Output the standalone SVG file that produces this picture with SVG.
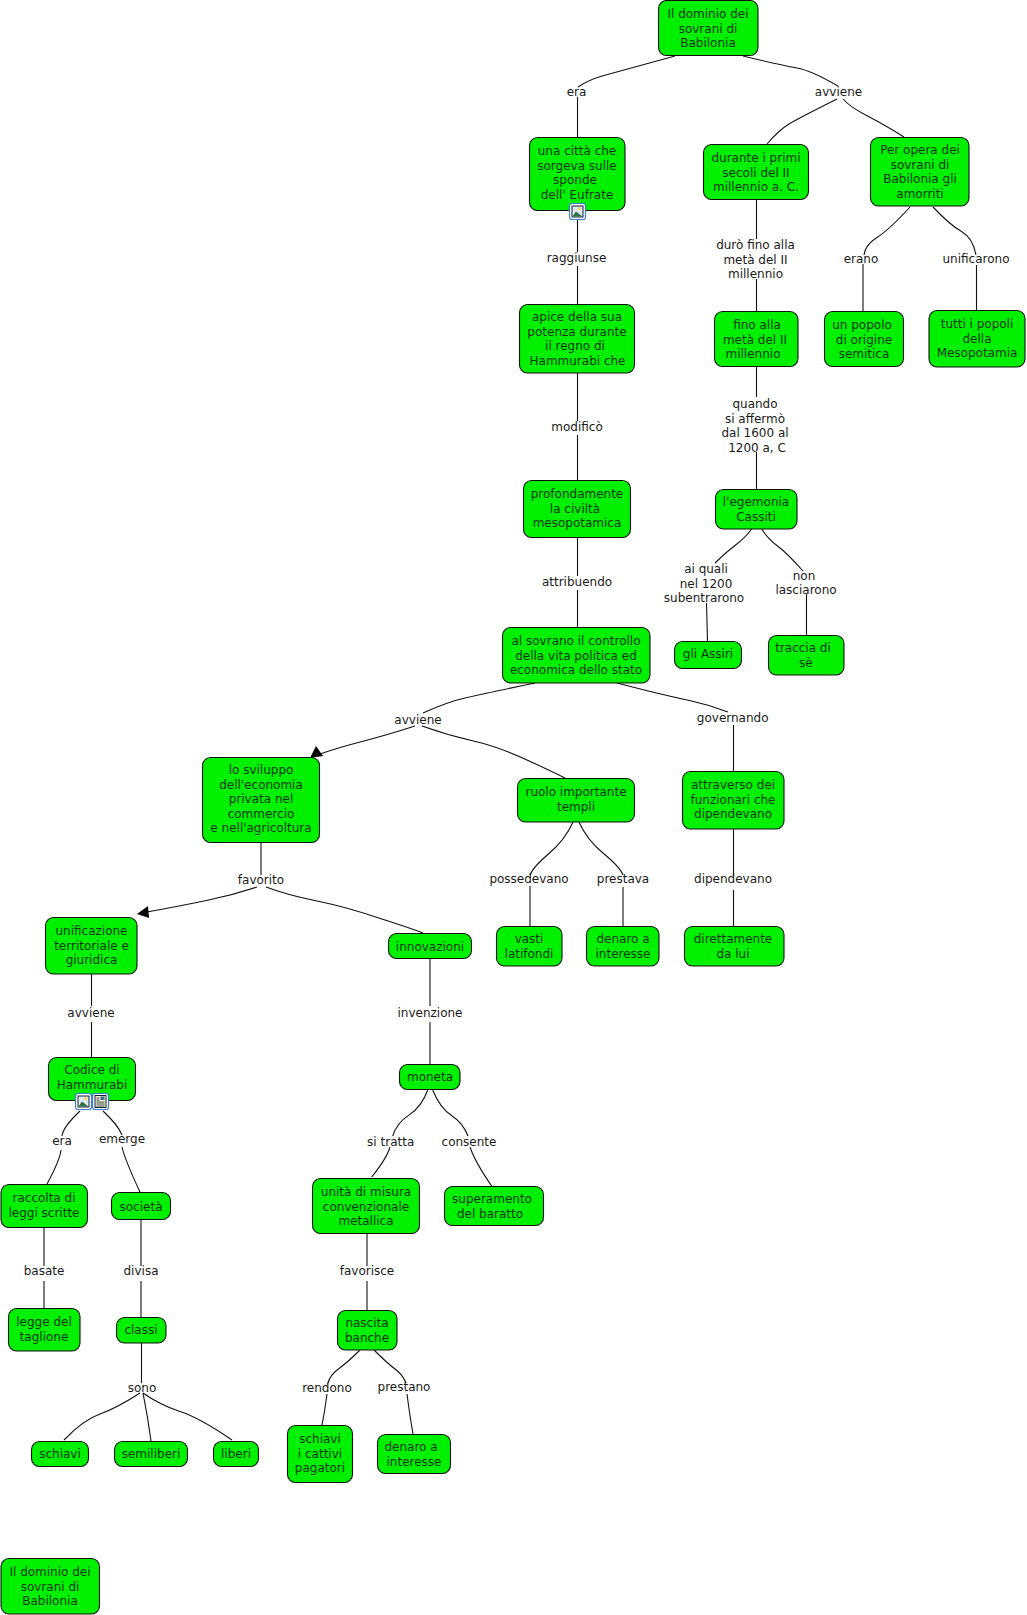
<svg xmlns="http://www.w3.org/2000/svg" width="1027" height="1615" viewBox="0 0 1027 1615">
<style>
text{font-family:"DejaVu Sans","Liberation Sans",sans-serif;font-size:12px;text-anchor:middle}
.n rect.b{fill:#00f000;stroke:#111;stroke-width:1.1}
.n text{fill:#063806}
.l{fill:#1a1a1a}
#connectors path{fill:none;stroke:#111;stroke-width:1.1}
#connectors polygon{fill:#000}
</style>
<defs>
<g id="pic"><rect x="0.5" y="0.5" width="16" height="16" rx="2.5" fill="#fff" stroke="#3f7fd0" stroke-width="1.2"/><rect x="3" y="3" width="11" height="11" fill="#dfeaf5" stroke="#123"/><path d="M3.5 13.5L7 8.5L13.5 13.5Z" fill="#2f6f3f"/><circle cx="10.5" cy="5.5" r="1.5" fill="#f2d24a"/></g>
<g id="doc"><rect x="0.5" y="0.5" width="16" height="16" rx="2.5" fill="#fff" stroke="#3f7fd0" stroke-width="1.2"/><rect x="3" y="2.5" width="11" height="12" fill="#f4f0d0" stroke="#123"/><rect x="8.500" y="3.500" width="4" height="3.500" fill="#3f6f8f"/><path d="M4.500 5H7.500M4.500 7H7.500M4.500 9H12.500M4.500 11H12.500M4.500 13H12.500" stroke="#123" stroke-width="0.8"/></g>
</defs>
<g id="connectors">
<path d="M675 56Q618 71.500 603 75.700Q588 80 578 87"/><path d="M577.500 97V137"/>
<path d="M743 56Q784 66 797 68Q810 70 838 86"/>
<path d="M837 99Q799 118 789 124Q779 130 767 144"/>
<path d="M843 99Q850 107 867.500 116Q885 125 904 137"/>
<path d="M577.500 219V252"/><path d="M577.500 266V304"/>
<path d="M756.500 200V239"/><path d="M756.500 279V311"/>
<path d="M910 207Q889 230 877 237.500Q865 245 864 255"/><path d="M863 264V311"/>
<path d="M933 207Q950 225 961.500 231.500Q973 238 976 255"/><path d="M976.500 265V310"/>
<path d="M577.500 373V421"/><path d="M577.500 435V480"/>
<path d="M756.500 366V397"/><path d="M756.500 452V489"/>
<path d="M577.500 537V576"/><path d="M577.500 590V627"/>
<path d="M751.700 529Q745 538 735 545.500Q725 553 715 563"/><path d="M706.500 603L707.500 641"/>
<path d="M761.700 529Q768 539 777.500 546Q787 553 803 571"/><path d="M806.500 594V635"/>
<path d="M535 683Q487 693 467 697.500Q447 702 423 713"/>
<path d="M415 726Q387 735 362 741.500Q337 748 320 754"/><polygon points="310,758 316,746 323,756"/>
<path d="M422 726Q447 735 473.500 741Q500 747 532.500 762.500Q553 772 565 778"/>
<path d="M617 683Q640 689 656.500 693Q673 697 691.500 701Q710 705 728 712"/><path d="M733.500 725V771"/>
<path d="M733.500 829V876"/><path d="M733.500 890V926"/>
<path d="M261 843V875"/>
<path d="M257 887Q233 895 206.500 900.500Q180 906 147 912"/><polygon points="137,914 148,906 149,918"/>
<path d="M266 887Q287 895 317 901Q347 907 385 920Q410 928 423 933"/>
<path d="M573 822Q565 840 549 853.500Q533 867 530 875"/><path d="M530 886V926"/>
<path d="M579 822Q587 840 603.500 853.500Q620 867 623 875"/><path d="M623 887V926"/>
<path d="M91.500 974V1006"/><path d="M91.500 1022V1057.500"/>
<path d="M430 958V1006"/><path d="M430 1022V1064"/>
<path d="M80 1111Q63 1127 62 1136"/><path d="M61 1150Q60 1160 47 1184"/>
<path d="M103 1111Q118 1125 122 1135"/><path d="M122 1147Q125 1160 140 1192"/>
<path d="M141 1220V1266"/><path d="M141 1281V1317"/>
<path d="M44 1228V1266"/><path d="M44 1281V1308"/>
<path d="M427.700 1090Q421.700 1106.700 409.200 1114.850Q396.700 1123 392.700 1136"/><path d="M390 1147Q387 1158 371.700 1177"/>
<path d="M432.700 1090Q440 1108 451.500 1115.500Q463 1123 468 1136"/><path d="M470 1147Q475 1162 491.700 1186"/>
<path d="M367 1234V1266"/><path d="M367 1281V1310"/>
<path d="M141.500 1343V1383"/>
<path d="M140 1393Q117 1408 100 1414Q83 1420 64 1440"/>
<path d="M143 1393Q148 1418 151 1441"/>
<path d="M143 1393Q160 1405 180 1411.500Q200 1418 232 1440"/>
<path d="M360 1350Q348 1362 339 1368.500Q330 1375 328 1383"/><path d="M327 1394Q325 1410 322 1425"/>
<path d="M374 1350Q387 1363 395 1369Q403 1375 406 1383"/><path d="M407 1394Q410 1417 413 1434"/>
</g>
<g id="labels" class="l">
<text class="l" x="576.500" y="96">era</text>
<text class="l" x="838.500" y="96">avviene</text>
<text class="l" x="576.500" y="262">raggiunse</text>
<text class="l" x="755.500" y="249"><tspan x="755.500">durò fino alla</tspan><tspan x="755.500" dy="14.600">metà del II</tspan><tspan x="755.500" dy="14.600">millennio</tspan></text>
<text class="l" x="861" y="263">erano</text>
<text class="l" x="976" y="263">unificarono</text>
<text class="l" x="577" y="431">modificò</text>
<text class="l" x="756" y="408"><tspan x="755">quando</tspan><tspan x="755" dy="14.600">si affermò</tspan><tspan x="755" dy="14.600">dal 1600 al</tspan><tspan x="757" dy="14.600">1200 a, C</tspan></text>
<text class="l" x="577" y="586">attribuendo</text>
<text class="l" x="704" y="573"><tspan x="706">ai quali</tspan><tspan x="706" dy="14.600">nel 1200</tspan><tspan x="704" dy="14.600">subentrarono</tspan></text>
<text class="l" x="806" y="579.500"><tspan x="804">non</tspan><tspan x="806" dy="14.600">lasciarono</tspan></text>
<text class="l" x="418" y="724">avviene</text>
<text class="l" x="732.700" y="722">governando</text>
<text class="l" x="261" y="884">favorito</text>
<text class="l" x="529" y="883">possedevano</text>
<text class="l" x="623" y="883">prestava</text>
<text class="l" x="733" y="883">dipendevano</text>
<text class="l" x="91" y="1017">avviene</text>
<text class="l" x="430" y="1017">invenzione</text>
<text class="l" x="62" y="1145">era</text>
<text class="l" x="122" y="1143">emerge</text>
<text class="l" x="390.700" y="1146">si tratta</text>
<text class="l" x="469" y="1146">consente</text>
<text class="l" x="44" y="1275">basate</text>
<text class="l" x="141" y="1275">divisa</text>
<text class="l" x="367" y="1275">favorisce</text>
<text class="l" x="142" y="1392">sono</text>
<text class="l" x="327" y="1392">rendono</text>
<text class="l" x="404" y="1391">prestano</text>
</g>
<g id="n1" class="n"><rect class="b" x="658.500" y="0.500" width="99.500" height="55" rx="8"/><text y="18"><tspan x="708">Il dominio dei</tspan><tspan x="708" dy="14.600">sovrani di</tspan><tspan x="708" dy="14.600">Babilonia</tspan></text></g>
<g id="n2" class="n"><rect class="b" x="529.500" y="137.500" width="95.500" height="73" rx="8"/><text y="155"><tspan x="577">una città che</tspan><tspan x="577" dy="14.600">sorgeva sulle</tspan><tspan x="575" dy="14.600">sponde</tspan><tspan x="577" dy="14.600">dell' Eufrate</tspan></text><use href="#pic" x="569" y="203"/></g>
<g id="n3" class="n"><rect class="b" x="703.500" y="144.500" width="105" height="55" rx="8"/><text y="162"><tspan x="756">durante i primi</tspan><tspan x="756" dy="14.600">secoli del II</tspan><tspan x="756" dy="14.600">millennio a. C.</tspan></text></g>
<g id="n4" class="n"><rect class="b" x="870.500" y="137.500" width="98.500" height="68.500" rx="8"/><text y="154"><tspan x="920">Per opera dei</tspan><tspan x="920" dy="14.600">sovrani di</tspan><tspan x="920" dy="14.600">Babilonia gli</tspan><tspan x="920" dy="14.600">amorriti</tspan></text></g>
<g id="n5" class="n"><rect class="b" x="519.500" y="304.500" width="115" height="68.500" rx="8"/><text y="321"><tspan x="577">apice della sua</tspan><tspan x="577" dy="14.600">potenza durante</tspan><tspan x="575" dy="14.600">il regno di</tspan><tspan x="577.500" dy="14.600">Hammurabi che</tspan></text></g>
<g id="n6" class="n"><rect class="b" x="714.500" y="311.500" width="83.500" height="55" rx="8"/><text y="329"><tspan x="757">fino alla</tspan><tspan x="755" dy="14.600">metà del II</tspan><tspan x="753" dy="14.600">millennio</tspan></text></g>
<g id="n7" class="n"><rect class="b" x="824.500" y="311.500" width="79" height="55" rx="8"/><text y="329"><tspan x="862">un popolo</tspan><tspan x="864" dy="14.600">di origine</tspan><tspan x="864" dy="14.600">semitica</tspan></text></g>
<g id="n8" class="n"><rect class="b" x="929" y="310.500" width="96" height="56.500" rx="8"/><text y="328"><tspan x="977">tutti i popoli</tspan><tspan x="977" dy="14.600">della</tspan><tspan x="977" dy="14.600">Mesopotamia</tspan></text></g>
<g id="n9" class="n"><rect class="b" x="523.500" y="480.500" width="107" height="57" rx="8"/><text y="498"><tspan x="577">profondamente</tspan><tspan x="575" dy="14.600">la civiltà</tspan><tspan x="577" dy="14.600">mesopotamica</tspan></text></g>
<g id="n10" class="n"><rect class="b" x="502.500" y="627.500" width="147.500" height="55.500" rx="8"/><text y="645"><tspan x="576">al sovrano il controllo</tspan><tspan x="576" dy="14.600">della vita politica ed</tspan><tspan x="576" dy="14.600">economica dello stato</tspan></text></g>
<g id="n11" class="n"><rect class="b" x="715.500" y="489.500" width="81.500" height="39.500" rx="8"/><text y="506"><tspan x="756">l'egemonia</tspan><tspan x="756" dy="14.600">Cassiti</tspan></text></g>
<g id="n12" class="n"><rect class="b" x="674.500" y="641.500" width="67" height="27" rx="8"/><text x="708" y="658">gli Assiri</text></g>
<g id="n13" class="n"><rect class="b" x="768.500" y="635.500" width="75.500" height="39.500" rx="8"/><text y="652"><tspan x="803">traccia di</tspan><tspan x="805.700" dy="14.600">sè</tspan></text></g>
<g id="n14" class="n"><rect class="b" x="202.500" y="757.500" width="117" height="85" rx="8"/><text y="774"><tspan x="261">lo sviluppo</tspan><tspan x="261" dy="14.600">dell'economia</tspan><tspan x="261" dy="14.600">privata nel</tspan><tspan x="261" dy="14.600">commercio</tspan><tspan x="261" dy="14.600">e nell'agricoltura</tspan></text></g>
<g id="n15" class="n"><rect class="b" x="517.500" y="778.500" width="117" height="43.500" rx="8"/><text y="796"><tspan x="576">ruolo importante</tspan><tspan x="576" dy="14.600">templi</tspan></text></g>
<g id="n16" class="n"><rect class="b" x="682.500" y="771.500" width="101.500" height="57.500" rx="8"/><text y="789"><tspan x="733">attraverso dei</tspan><tspan x="733" dy="14.600">funzionari che</tspan><tspan x="733" dy="14.600">dipendevano</tspan></text></g>
<g id="n17" class="n"><rect class="b" x="45.500" y="917.500" width="91.500" height="56.500" rx="8"/><text y="935"><tspan x="91.500">unificazione</tspan><tspan x="91.500" dy="14.600">territoriale e</tspan><tspan x="91.500" dy="14.600">giuridica</tspan></text></g>
<g id="n18" class="n"><rect class="b" x="388.500" y="933.500" width="83" height="25" rx="8"/><text x="430" y="951">innovazioni</text></g>
<g id="n19" class="n"><rect class="b" x="496.500" y="926.500" width="65.500" height="39.500" rx="8"/><text y="943"><tspan x="529">vasti</tspan><tspan x="529" dy="14.600">latifondi</tspan></text></g>
<g id="n20" class="n"><rect class="b" x="586.500" y="926.500" width="72.500" height="39.500" rx="8"/><text y="943"><tspan x="623">denaro a</tspan><tspan x="623" dy="14.600">interesse</tspan></text></g>
<g id="n21" class="n"><rect class="b" x="684.500" y="926.500" width="99.500" height="39.500" rx="8"/><text y="943"><tspan x="733">direttamente</tspan><tspan x="733" dy="14.600">da lui</tspan></text></g>
<g id="n22" class="n"><rect class="b" x="48.500" y="1057.500" width="87" height="43" rx="8"/><text y="1074"><tspan x="92">Codice di</tspan><tspan x="92" dy="14.600">Hammurabi</tspan></text><use href="#pic" x="75" y="1093"/><use href="#doc" x="92" y="1093"/></g>
<g id="n23" class="n"><rect class="b" x="1" y="1184.500" width="86.500" height="43" rx="8"/><text y="1202"><tspan x="44">raccolta di</tspan><tspan x="44" dy="14.600">leggi scritte</tspan></text></g>
<g id="n24" class="n"><rect class="b" x="111.500" y="1192.500" width="59" height="27" rx="8"/><text x="141" y="1211">società</text></g>
<g id="n25" class="n"><rect class="b" x="399.500" y="1064.500" width="60.500" height="25" rx="8"/><text x="430" y="1081">moneta</text></g>
<g id="n26" class="n"><rect class="b" x="312.500" y="1178.500" width="107" height="55" rx="8"/><text y="1196"><tspan x="366">unità di misura</tspan><tspan x="366" dy="14.600">convenzionale</tspan><tspan x="366" dy="14.600">metallica</tspan></text></g>
<g id="n27" class="n"><rect class="b" x="444.500" y="1186.500" width="99" height="39" rx="8"/><text y="1203"><tspan x="492">superamento</tspan><tspan x="490" dy="14.600">del baratto</tspan></text></g>
<g id="n28" class="n"><rect class="b" x="8.500" y="1308.500" width="71.500" height="42.500" rx="8"/><text y="1326"><tspan x="44">legge del</tspan><tspan x="44" dy="14.600">taglione</tspan></text></g>
<g id="n29" class="n"><rect class="b" x="116.500" y="1317.500" width="49.500" height="25.500" rx="8"/><text x="141" y="1334">classi</text></g>
<g id="n30" class="n"><rect class="b" x="337.500" y="1310.500" width="59.500" height="39.500" rx="8"/><text y="1327"><tspan x="367">nascita</tspan><tspan x="367" dy="14.600">banche</tspan></text></g>
<g id="n31" class="n"><rect class="b" x="31.500" y="1441.500" width="57" height="25" rx="8"/><text x="60" y="1458">schiavi</text></g>
<g id="n32" class="n"><rect class="b" x="114.500" y="1441.500" width="73" height="25" rx="8"/><text x="151" y="1458">semiliberi</text></g>
<g id="n33" class="n"><rect class="b" x="213.500" y="1441.500" width="45" height="25" rx="8"/><text x="236" y="1458">liberi</text></g>
<g id="n34" class="n"><rect class="b" x="287.500" y="1425.500" width="65" height="57" rx="8"/><text y="1443"><tspan x="320">schiavi</tspan><tspan x="320" dy="14.600">i cattivi</tspan><tspan x="320" dy="14.600">pagatori</tspan></text></g>
<g id="n35" class="n"><rect class="b" x="377.500" y="1434.500" width="73" height="39" rx="8"/><text y="1451"><tspan x="411">denaro a</tspan><tspan x="414" dy="14.600">interesse</tspan></text></g>
<g id="n36" class="n"><rect class="b" x="1" y="1558.500" width="98.500" height="55.500" rx="8"/><text y="1576"><tspan x="50">Il dominio dei</tspan><tspan x="50" dy="14.600">sovrani di</tspan><tspan x="50" dy="14.600">Babilonia</tspan></text></g>
</svg>
